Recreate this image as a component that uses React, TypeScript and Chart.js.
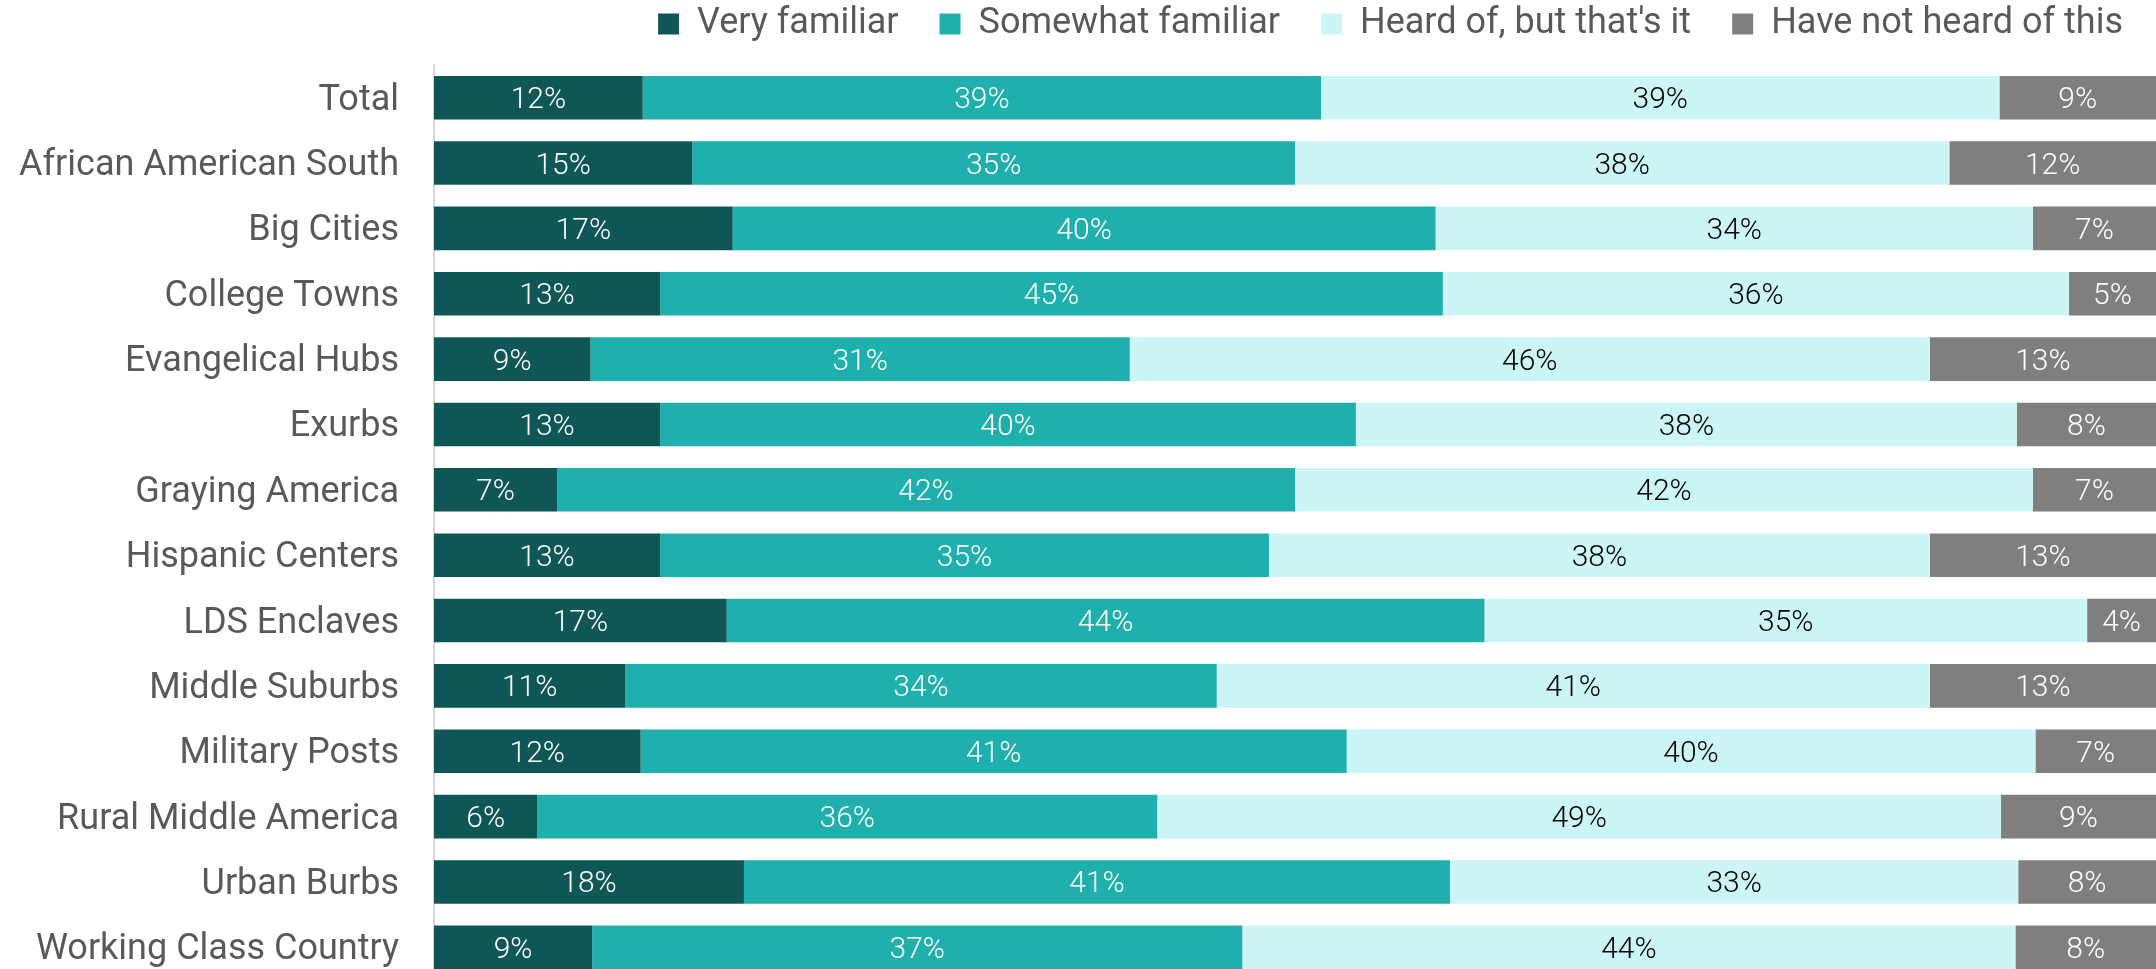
import React, { useEffect, useRef } from "react";
import { Chart, registerables } from "chart.js";

Chart.register(...registerables);

const categories = [
  "Total",
  "African American South",
  "Big Cities",
  "College Towns",
  "Evangelical Hubs",
  "Exurbs",
  "Graying America",
  "Hispanic Centers",
  "LDS Enclaves",
  "Middle Suburbs",
  "Military Posts",
  "Rural Middle America",
  "Urban Burbs",
  "Working Class Country",
];

const veryFamiliar = [12, 15, 17, 13, 9, 13, 7, 13, 17, 11, 12, 6, 18, 9];
const somewhatFamiliar = [39, 35, 40, 45, 31, 40, 42, 35, 44, 34, 41, 36, 41, 37];
const heardOf = [39, 38, 34, 36, 46, 38, 42, 38, 35, 41, 40, 49, 33, 44];
const notHeard = [9, 12, 7, 5, 13, 8, 7, 13, 4, 13, 7, 9, 8, 8];

const seriesNames = [
  "Very familiar",
  "Somewhat familiar",
  "Heard of, but that's it",
  "Have not heard of this",
];
const seriesColors = ["#0F5757", "#1FB0AE", "#CCF5F5", "#7F7F7F"];
const labelColors = ["#FFFFFF", "#FFFFFF", "#000000", "#FFFFFF"];

const FONT = "Roboto";

export default function App() {
  const canvasRef = useRef<HTMLCanvasElement | null>(null);

  useEffect(() => {
    const raw = [veryFamiliar, somewhatFamiliar, heardOf, notHeard];
    const rowSums = categories.map((_, j) => raw.reduce((s, arr) => s + arr[j], 0));
    const pct = raw.map((arr) => arr.map((v, j) => (v / rowSums[j]) * 100));

    const barLabels = {
      id: "barLabels",
      afterDatasetsDraw(chart: any) {
        const ctx = chart.ctx;
        ctx.save();
        ctx.font = `300 30px ${FONT}`;
        ctx.textAlign = "center";
        ctx.textBaseline = "middle";
        chart.data.datasets.forEach((_: any, i: number) => {
          const meta = chart.getDatasetMeta(i);
          meta.data.forEach((el: any, j: number) => {
            const p = el.getProps(["x", "base", "y"], true);
            ctx.fillStyle = labelColors[i];
            ctx.fillText(raw[i][j] + "%", (p.x + p.base) / 2, p.y + 3);
          });
        });
        ctx.restore();
      },
    };

    const legendShift = {
      id: "legendShift",
      afterLayout(chart: any) {
        if (chart.legend) {
          chart.legend.right += 8;
        }
      },
    };

    const chart = new Chart(canvasRef.current as HTMLCanvasElement, {
      type: "bar",
      data: {
        labels: categories,
        datasets: pct.map((arr, i) => ({
          label: seriesNames[i],
          data: arr,
          backgroundColor: seriesColors[i],
          borderWidth: 0,
          barPercentage: 0.667,
          categoryPercentage: 1,
        })),
      },
      options: {
        indexAxis: "y",
        responsive: false,
        animation: false,
        devicePixelRatio: 1,
        layout: { padding: { top: -35, left: 0, right: 0, bottom: 0 } },
        plugins: {
          tooltip: { enabled: false },
          legend: {
            position: "top",
            align: "end",
            labels: {
              boxWidth: 21,
              boxHeight: 21,
              padding: 41,
              color: "#595959",
              font: { family: FONT, size: 36 },
            },
          },
        },
        scales: {
          x: {
            stacked: true,
            min: 0,
            max: 100,
            position: "top",
            grid: { display: false, drawTicks: false },
            border: { display: false },
            ticks: { display: false },
            afterFit: (s: any) => {
              s.height = 13;
            },
          },
          y: {
            stacked: true,
            grid: { display: false, drawTicks: false },
            border: { display: true, color: "#D9D9D9", width: 2 },
            ticks: {
              color: "#595959",
              padding: 35,
              labelOffset: 3,
              font: { family: FONT, size: 36 },
            },
            afterFit: (s: any) => {
              s.width = 434;
              s.paddingTop = 0;
              s.paddingBottom = 0;
            },
          },
        },
      },
      plugins: [barLabels, legendShift],
    } as any);

    return () => chart.destroy();
  }, []);

  return (
    <div
      style={{
        position: "fixed",
        left: 0,
        top: 0,
        width: 2156,
        height: 969,
        overflow: "hidden",
        background: "#FFFFFF",
      }}
    >
      <canvas ref={canvasRef} width={2156} height={980} style={{ display: "block" }} />
    </div>
  );
}
